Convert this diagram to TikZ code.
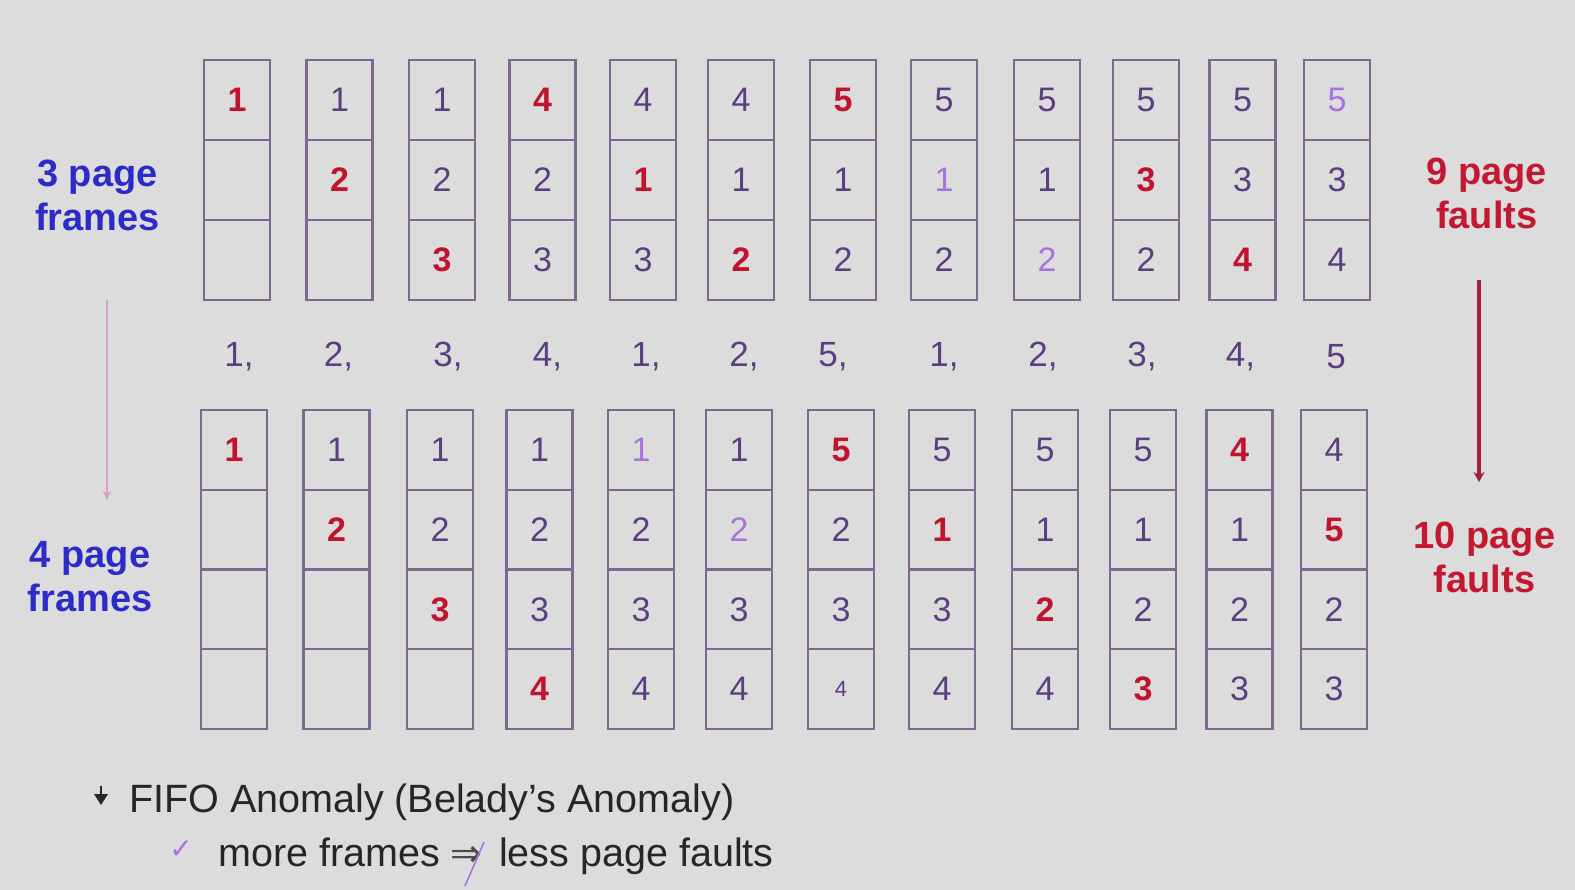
\documentclass[tikz,border=0pt]{standalone}
\usepackage{fontspec}
\setmainfont{Liberation Sans}
\newfontfamily\djv{DejaVu Sans}
\usetikzlibrary{arrows.meta}
\definecolor{bg}{HTML}{DCDCDC}
\definecolor{boxc}{HTML}{7D6890}
\definecolor{digc}{HTML}{5B3E7E}
\definecolor{fault}{HTML}{C0142C}
\definecolor{hitc}{HTML}{A872E0}
\definecolor{lblue}{HTML}{2B2BC8}
\definecolor{lred}{HTML}{C41830}
\definecolor{larrow}{HTML}{D4A0CC}
\definecolor{rarrow}{HTML}{A3203C}
\definecolor{txt}{HTML}{262626}
\definecolor{impc}{HTML}{4A4A4A}
\newcommand\flt[1]{\textcolor{fault}{\bfseries #1}}
\newcommand\hitd[1]{\textcolor{hitc}{#1}}
\newcommand\smd[1]{{\fontsize{22}{22}\selectfont #1}}
\begin{document}
\begin{tikzpicture}[x=1pt,y=-1pt,
  cell/.style={draw=boxc,line width=2.2pt,minimum width=66pt,inner sep=0pt,text=digc,font=\fontsize{34}{34}\selectfont},
  tcell/.style={cell,minimum height=80pt},
  bcell/.style={cell,minimum height=79.75pt},
  seq/.style={text=digc,font=\fontsize{35}{35}\selectfont,inner sep=0pt},
  lab/.style={font=\fontsize{38}{44}\selectfont\bfseries,align=center,inner sep=0pt},
  btxt/.style={text=txt,font=\fontsize{39.5}{40}\selectfont,inner sep=0pt,anchor=base west}]
\fill[bg] (0,0) rectangle (1575,890);
\useasboundingbox (0,0) rectangle (1575,890);
% top: 3 frames
\foreach \i/\x/\a/\b/\c in {
  1/237/{\flt{1}}/{}/{},
  2/339.5/{1}/{\flt{2}}/{},
  3/442/{1}/{2}/{\flt{3}},
  4/542.5/{\flt{4}}/{2}/{3},
  5/643/{4}/{\flt{1}}/{3},
  6/741/{4}/{1}/{\flt{2}},
  7/843/{\flt{5}}/{1}/{2},
  8/944/{5}/{\hitd{1}}/{2},
  9/1047/{5}/{1}/{\hitd{2}},
  10/1146/{5}/{\flt{3}}/{2},
  11/1242.5/{5}/{3}/{\flt{4}},
  12/1337/{\hitd{5}}/{3}/{4}}
{
  \node[tcell] (t\i-1) at (\x,100) {\a};
  \node[tcell] (t\i-2) at (\x,180) {\b};
  \node[tcell] (t\i-3) at (\x,260) {\c};
}
% bottom: 4 frames
\foreach \i/\x/\a/\b/\c/\d in {
  1/234/{\flt{1}}/{}/{}/{},
  2/336.5/{1}/{\flt{2}}/{}/{},
  3/440/{1}/{2}/{\flt{3}}/{},
  4/539.5/{1}/{2}/{3}/{\flt{4}},
  5/641/{\hitd{1}}/{2}/{3}/{4},
  6/739/{1}/{\hitd{2}}/{3}/{4},
  7/841/{\flt{5}}/{2}/{3}/{\smd{4}},
  8/942/{5}/{\flt{1}}/{3}/{4},
  9/1045/{5}/{1}/{\flt{2}}/{4},
  10/1143/{5}/{1}/{2}/{\flt{3}},
  11/1239.5/{\flt{4}}/{1}/{2}/{3},
  12/1334/{4}/{\flt{5}}/{2}/{3}}
{
  \node[bcell] (b\i-1) at (\x,449.9) {\a};
  \node[bcell] (b\i-2) at (\x,529.6) {\b};
  \node[bcell] (b\i-3) at (\x,609.4) {\c};
  \node[bcell] (b\i-4) at (\x,689.1) {\d};
}
% reference string
\foreach \i/\x/\t in {1/239/{1,},2/338.5/{2,},3/448/{3,},4/547.5/{4,},5/646/{1,},6/744/{2,},
  7/833/{5,},8/944/{1,},9/1043/{2,},10/1142/{3,},11/1240.5/{4,},12/1336/{5}}
{
  \node[seq] (s\i) at (\x,357) {\t};
}
% labels
\node[lab,text=lblue] (l3) at (97.5,195) {3 page\\frames};
\node[lab,text=lblue] (l4) at (90,577) {4 page\\frames};
\node[lab,text=lred] (r9) at (1486.7,193.5) {9 page\\faults};
\node[lab,text=lred] (r10) at (1484.6,557.5) {10 page\\faults};
% arrows
\coordinate (la1) at (107,300);
\coordinate (la2) at (107,500);
\coordinate (ra1) at (1479,280);
\coordinate (ra2) at (1479,482);
\draw[larrow,line width=1.6pt,-{Stealth[length=9pt,width=8pt]}] (la1) -- (la2);
\draw[rarrow,line width=3.2pt,-{Stealth[length=10pt,width=11pt]}] (ra1) -- (ra2);
% bottom text
\draw[txt,line width=2.6pt] (101,786) -- (101,797);
\fill[txt] (94,794) -- (108,794) -- (101,805) -- cycle;
\node[btxt] (fifo) at (129,812) {FIFO Anomaly (Belady’s Anomaly)};
\node[text=hitc,font=\djv\fontsize{28}{28}\selectfont,inner sep=0pt] (chk) at (181,850) {✓};
\node[btxt] (mf) at (218,866) {more frames};
\node[btxt,text=impc,font=\djv\fontsize{38}{38}\selectfont] (imp) at (450,866) {⇒};
\node[btxt] (lpf) at (499,866) {less page faults};
\draw[hitc,line width=1.6pt] (484,842) -- (465,886);
\end{tikzpicture}
\end{document}
